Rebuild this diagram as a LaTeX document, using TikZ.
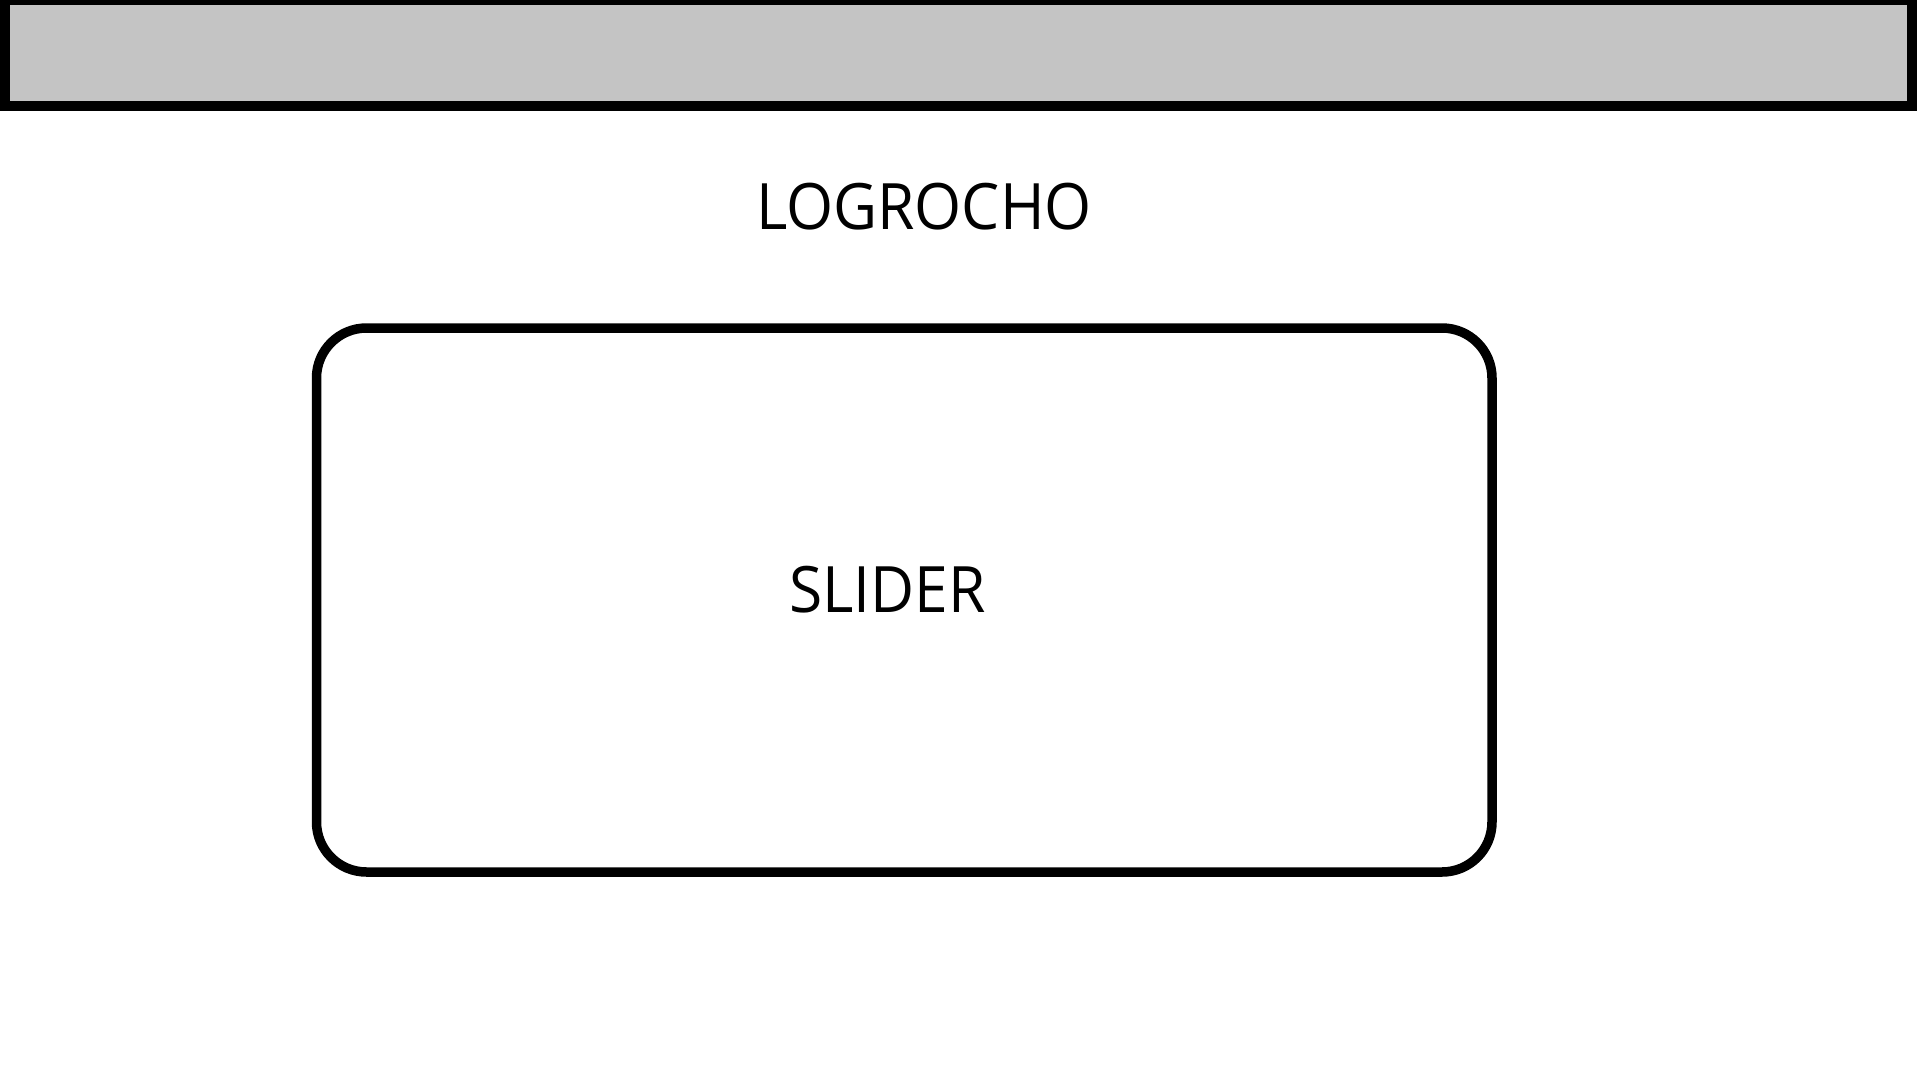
\documentclass[tikz,border=0pt]{standalone}
\usepackage{fontspec}
\setmainfont{Open Sans}[FakeStretch=0.945]
\definecolor{bargray}{HTML}{C4C4C4}
\tikzset{
  topbar/.style={draw=black, fill=bargray, line width=10pt},
  sliderbox/.style={draw=black, line width=9.5pt, rounded corners=50pt},
  label/.style={inner sep=0pt, anchor=base, font=\fontsize{64}{70}\selectfont}
}
\begin{document}
\begin{tikzpicture}[x=1pt,y=-1pt]
\useasboundingbox (0,0) rectangle (1920,1080);
\fill[white] (0,0) rectangle (1920,1080);
\draw[topbar] (4.5,0) rectangle (1912,106);
\draw[sliderbox] (316.5,328) rectangle (1492,872);
\node[label] (logo) at (924,229) {LOGROCHO};
\node[label] (slider) at (887.5,612) {SLIDER};
\end{tikzpicture}
\end{document}
